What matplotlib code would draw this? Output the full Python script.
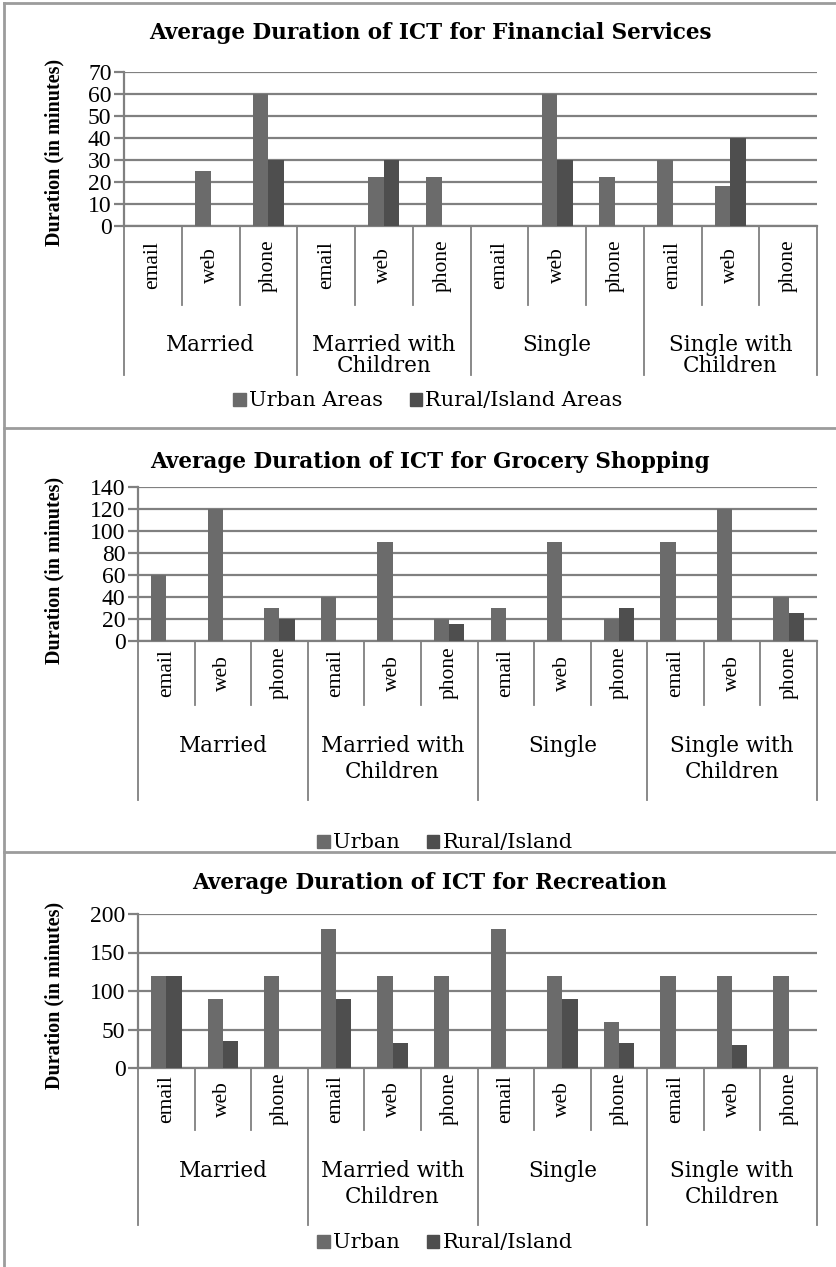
import matplotlib
matplotlib.use("Agg")
import matplotlib.pyplot as plt
from matplotlib.lines import Line2D
from matplotlib.patches import Patch
from matplotlib.transforms import blended_transform_factory
import numpy as np

plt.rcParams["font.family"] = ["Liberation Serif", "DejaVu Serif"]
WIDE = ["DejaVu Serif"]  # wider serif for the horizontally stretched texts

W, H = 836, 1267

GROUPS = ["Married", "Married with\nChildren", "Single", "Single with\nChildren"]
CHANNELS = ["email", "web", "phone"]

# Financial services
fin_urban = [0, 25, 60, 0, 22.5, 22.5, 0, 60, 22.5, 30, 18, 0]
fin_rural = [0, 0, 30, 0, 30, 0, 0, 30, 0, 0, 40, 0]
fin_legend = ["Urban Areas", "Rural/Island Areas"]

# Grocery shopping
gro_urban = [60, 120, 30, 40, 90, 20, 30, 90, 20, 90, 120, 40]
gro_rural = [0, 0, 20, 0, 0, 15, 0, 0, 30, 0, 0, 25]
gro_legend = ["Urban", "Rural/Island"]

# Recreation
rec_urban = [120, 90, 120, 180, 120, 120, 180, 120, 60, 120, 120, 120]
rec_rural = [120, 35, 0, 90, 33, 0, 0, 90, 33, 0, 30, 0]
rec_legend = ["Urban", "Rural/Island"]

URBAN = "#6b6b6b"
RURAL = "#4e4e4e"
GRID = "#808080"
FRAME = "#9c9c9c"


def fx(px):
    return px / W


def fy(py):
    return 1 - py / H


def panel(fig, title, urban, rural, legend, ymax, ystep, box):
    (left, right, top, bottom, sub_bot, grp_bot, grp_text, line_sp,
     title_y, leg_y, leg_x, ylab_y) = box
    ax = fig.add_axes([fx(left), fy(bottom), fx(right - left), (bottom - top) / H])
    x = np.arange(len(urban))
    w = 0.27
    ax.bar(x - w / 2, urban, w, color=URBAN, zorder=3)
    ax.bar(x + w / 2, rural, w, color=RURAL, zorder=3)
    ax.set_xlim(-0.5, len(urban) - 0.5)
    ax.set_ylim(0, ymax)
    ax.set_yticks(np.arange(0, ymax + 1, ystep))
    ax.set_xticks([])
    ax.grid(axis="y", color=GRID, linewidth=1.6, zorder=1)
    for s in ["top", "right"]:
        ax.spines[s].set_visible(False)
    for s in ["left", "bottom"]:
        ax.spines[s].set_color(GRID)
        ax.spines[s].set_linewidth(1.6)
    ax.tick_params(axis="y", length=7, width=1.6, color=GRID, labelsize=17, pad=2)
    ax.set_ylabel("Duration (in minutes)", fontsize=14.5, fontweight="bold")
    ax.yaxis.set_label_coords(fx(64), fy(ylab_y), transform=fig.transFigure)

    tr = blended_transform_factory(ax.transData, fig.transFigure)
    for k in range(len(urban) + 1):
        y_end = grp_bot if k % 3 == 0 else sub_bot
        ax.add_artist(Line2D([k - 0.5, k - 0.5], [fy(bottom), fy(y_end)], transform=tr,
                             color=GRID, linewidth=1.3, clip_on=False))
    for i in range(len(urban)):
        ax.text(i, fy((bottom + sub_bot) / 2), CHANNELS[i % 3], transform=tr, rotation=90,
                ha="center", va="center", fontsize=15.5)
    for g, name in enumerate(GROUPS):
        ax.text(3 * g + 1, fy(grp_text), name, transform=tr, ha="center", va="top",
                fontsize=15.5, family=WIDE, linespacing=line_sp)

    fig.text(fx(430), fy(title_y), title, ha="center", va="center", fontsize=15.5,
             fontweight="bold", family=WIDE)
    handles = [Patch(color=URBAN), Patch(color=RURAL)]
    fig.legend(handles, legend, loc="center", bbox_to_anchor=(fx(leg_x), fy(leg_y)), ncol=2,
               frameon=False, prop={"family": WIDE, "size": 15}, handlelength=0.6,
               handleheight=0.6, handletextpad=0.15, columnspacing=1.3)
    return ax


fig = plt.figure(figsize=(W / 100, H / 100), dpi=100, facecolor="white")

panel(fig, "Average Duration of ICT for Financial Services", fin_urban, fin_rural, fin_legend,
      70, 10, (124, 817, 72, 226, 305, 375, 334, 0.95, 33, 401, 428, 152))
panel(fig, "Average Duration of ICT for Grocery Shopping", gro_urban, gro_rural, gro_legend,
      140, 20, (138, 817, 487, 641, 705, 800, 735, 1.25, 462, 843, 445, 570))
panel(fig, "Average Duration of ICT for Recreation", rec_urban, rec_rural, rec_legend,
      200, 50, (138, 817, 914, 1068, 1130, 1225, 1160, 1.25, 883, 1243, 445, 995))

# outer frame and separators
for xs, ys in [([4, 4], [3, H]), ([4, W], [3, 3]), ([4, W], [428, 428]), ([4, W], [852, 852])]:
    fig.add_artist(Line2D([fx(p) for p in xs], [fy(p) for p in ys], color=FRAME, linewidth=2))

fig.savefig("out.png", dpi=100, facecolor="white")
